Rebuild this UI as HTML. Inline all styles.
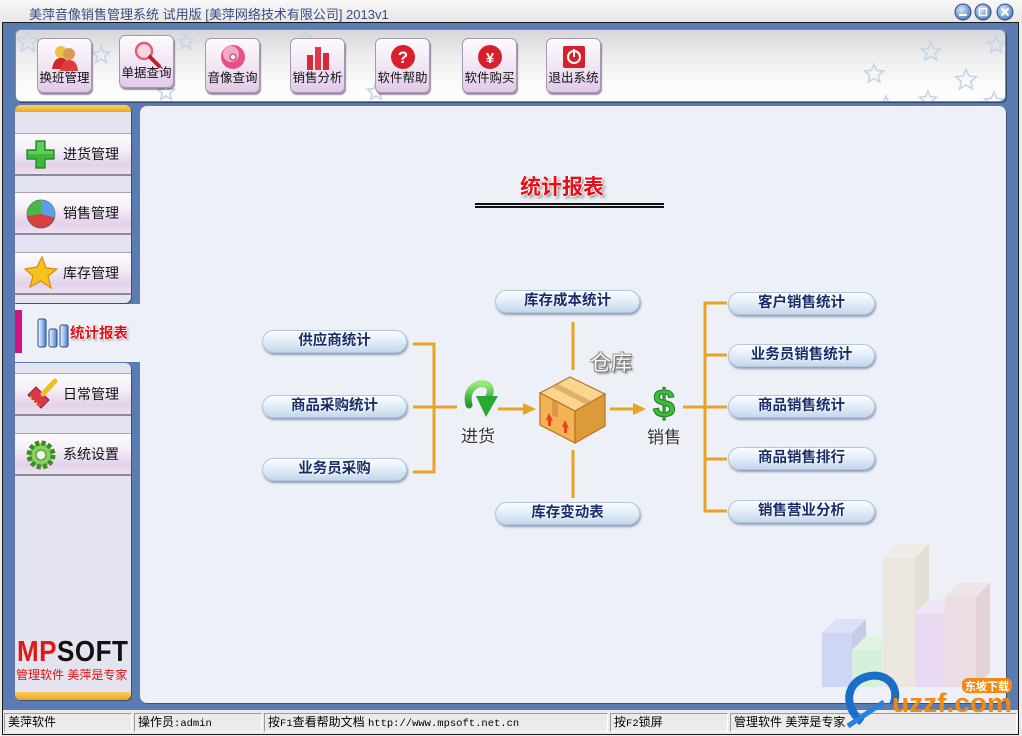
<!DOCTYPE html>
<html><head><meta charset="utf-8">
<style>
*{box-sizing:border-box;margin:0;padding:0}
body{width:1022px;height:736px;position:relative;overflow:hidden;background:#ececec;font-family:"Liberation Sans","Noto Sans CJK SC","WenQuanYi Zen Hei",sans-serif;}
.abs{position:absolute}
.tb{position:absolute;width:55px;height:55px;border-radius:6px;border:1px solid #a796b2;background:linear-gradient(#fdfafd,#f3e9f5 45%,#e1c9e8);box-shadow:1px 2px 1px rgba(70,55,90,.55)}
.tb span{position:absolute;left:0;right:0;bottom:6px;text-align:center;font-size:12.5px;color:#111;white-space:nowrap}
.tb svg{position:absolute;left:12px;top:4px}
.si{position:absolute;left:15px;width:116px;height:43px;background:linear-gradient(180deg,#fcfafd 0%,#f6f0f8 35%,#e3d1eb 78%,#ece1f1 100%);border-top:1px solid #aaa3b4;border-bottom:2px solid #8d8999}
.si span{position:absolute;left:48px;top:0;line-height:41px;font-size:14px;color:#111}
.si svg{position:absolute;left:10px;top:5px}
.pill{position:absolute;height:23px;border-radius:12px;border:1px solid #b3c6dc;background:linear-gradient(#fbfdff,#e4eef8 45%,#c4d8ec);box-shadow:1px 2px 2px rgba(60,90,140,.55);text-align:center;font-weight:bold;font-size:14.5px;line-height:21px;color:#1a2c6a;text-shadow:0 0 2px #fff,0 0 2px #fff}
.seg{position:absolute;top:713px;height:19px;border-top:1px solid #9c9c9c;border-left:1px solid #9c9c9c;border-bottom:1px solid #fff;border-right:1px solid #fff;font-size:12px;line-height:17px;padding-left:3px;color:#000;white-space:nowrap;overflow:hidden}
.mono{font-family:"Liberation Mono",monospace;font-size:10.5px}
</style></head><body>

<!-- title bar -->
<div class="abs" style="left:0;top:0;width:1022px;height:23px;background:linear-gradient(#f8f8f8,#e6e6e6)"></div>
<div class="abs" style="left:29px;top:4px;font-size:13px;color:#3a4a80;white-space:nowrap">美萍音像销售管理系统 试用版 [美萍网络技术有限公司] 2013v1</div>
<svg class="abs" style="left:950px;top:2px" width="70" height="20">
<defs><radialGradient id="wb" cx="40%" cy="35%" r="70%"><stop offset="0" stop-color="#d6e4f8"/><stop offset="1" stop-color="#4c78bc"/></radialGradient></defs>
<circle cx="13" cy="10" r="8" fill="url(#wb)" stroke="#2d4e8e"/>
<circle cx="33" cy="10" r="8" fill="url(#wb)" stroke="#2d4e8e"/>
<circle cx="55" cy="10" r="8" fill="url(#wb)" stroke="#2d4e8e"/>
<rect x="9" y="12" width="8" height="2" fill="#fff"/>
<rect x="29.5" y="6.5" width="7" height="7" fill="none" stroke="#fff" stroke-width="1.5"/>
<path d="M51.5 6.5 L58.5 13.5 M58.5 6.5 L51.5 13.5" stroke="#fff" stroke-width="2"/>
</svg>

<!-- frame -->
<div class="abs" style="left:2px;top:22px;width:1017px;height:713px;border:1px solid #1c1c1c;background:#5a7cb2"></div>

<!-- toolbar panel -->
<div class="abs" style="left:15px;top:29px;width:991px;height:73px;border-radius:6px;border:1px solid #7d8ca6;background:linear-gradient(#d6d6d9,#ececee 35%,#fafafa 75%,#ffffff);box-shadow:1px 1px 0 #34466a;overflow:hidden">
<svg class="abs" style="left:0;top:0" width="991" height="73">
<defs><polygon id="st" points="0,-1 0.265,-0.364 0.951,-0.309 0.428,0.139 0.588,0.809 0,0.45 -0.588,0.809 -0.428,0.139 -0.951,-0.309 -0.265,-0.364" vector-effect="non-scaling-stroke"/></defs>
<g fill="none" stroke="#c3d5e6" stroke-width="1.6">
<use href="#st" transform="translate(12,12) scale(11)"/>
<use href="#st" transform="translate(85,25) scale(9)"/>
<use href="#st" transform="translate(170,12) scale(8)"/>
<use href="#st" transform="translate(150,62) scale(9)"/>
<use href="#st" transform="translate(290,8) scale(7)"/>
<use href="#st" transform="translate(360,62) scale(9)"/>
<use href="#st" transform="translate(858,44) scale(10)"/>
<use href="#st" transform="translate(915,22) scale(10)"/>
<use href="#st" transform="translate(950,50) scale(11)"/>
<use href="#st" transform="translate(980,15) scale(9)"/>
<use href="#st" transform="translate(978,72) scale(10)"/>
<use href="#st" transform="translate(912,70) scale(9)"/>
<use href="#st" transform="translate(870,75) scale(9)"/>
</g>
</svg>
</div>

<!-- toolbar buttons -->
<div class="tb" style="left:37px;top:38px"><svg width="30" height="30"><circle cx="11" cy="9" r="6" fill="#f0c040"/><circle cx="19" cy="11" r="6" fill="#d89a50"/><path d="M2 26 Q4 14 12 15 Q18 15 18 26Z" fill="#d02828"/><path d="M10 28 Q12 17 19 17 Q27 17 28 28Z" fill="#e03c3c"/></svg><span>换班管理</span></div>
<div class="tb" style="left:119px;top:35px;height:53px"><svg width="30" height="30"><circle cx="12" cy="11" r="8" fill="#fbd4dc" stroke="#e0607a" stroke-width="2.5"/><path d="M18 17 L27 26" stroke="#d01828" stroke-width="4" stroke-linecap="round"/></svg><span>单据查询</span></div>
<div class="tb" style="left:205px;top:38px"><svg width="30" height="30"><circle cx="15" cy="14" r="12" fill="#e8508a"/><circle cx="13" cy="11" r="8" fill="#f6a8c8"/><circle cx="15" cy="14" r="3" fill="#fff" stroke="#b02060"/></svg><span>音像查询</span></div>
<div class="tb" style="left:290px;top:38px"><svg width="30" height="30"><rect x="4" y="12" width="6" height="15" fill="#d8283c"/><rect x="12" y="4" width="6" height="23" fill="#e03848"/><rect x="20" y="10" width="6" height="17" fill="#d8283c"/></svg><span>销售分析</span></div>
<div class="tb" style="left:375px;top:38px"><svg width="30" height="30"><circle cx="15" cy="14" r="12" fill="#d8202c"/><text x="15" y="20" text-anchor="middle" font-size="17" font-weight="bold" fill="#fff" font-family="Liberation Sans">?</text></svg><span>软件帮助</span></div>
<div class="tb" style="left:462px;top:38px"><svg width="30" height="30"><circle cx="15" cy="14" r="12" fill="#d8202c"/><text x="15" y="20" text-anchor="middle" font-size="15" font-weight="bold" fill="#fff" font-family="Liberation Sans">¥</text></svg><span>软件购买</span></div>
<div class="tb" style="left:546px;top:38px"><svg width="30" height="30"><rect x="4" y="3" width="22" height="22" rx="2" fill="#d8202c"/><circle cx="15" cy="14" r="6" fill="none" stroke="#fff" stroke-width="2"/><rect x="14" y="6" width="2" height="8" fill="#fff"/></svg><span>退出系统</span></div>

<!-- main panel -->
<div class="abs" style="left:140px;top:106px;width:866px;height:597px;border-radius:7px;background:#edf0f6;box-shadow:1px 1px 0 #3e5078"></div>

<!-- sidebar panel 1 -->
<div class="abs" style="left:15px;top:105px;width:116px;height:198px;border-radius:6px 6px 6px 0;background:#e4e4f0;overflow:hidden;box-shadow:1px 1px 0 #3e5078">
<div style="height:7px;background:linear-gradient(#fbd060,#f0a420)"></div>
</div>
<!-- selected tab -->
<div class="abs" style="left:15px;top:304px;width:130px;height:58px;background:#edf0f6"></div>
<div class="abs" style="left:15px;top:310px;width:7px;height:43px;background:#d0137e"></div>
<svg class="abs" style="left:36px;top:317px" width="34" height="32">
<defs><linearGradient id="bb" x1="0" x2="1"><stop offset="0" stop-color="#f4f8ff"/><stop offset=".5" stop-color="#9cc0ec"/><stop offset="1" stop-color="#4a7cc4"/></linearGradient></defs>
<rect x="2" y="2" width="8" height="28" rx="2" fill="url(#bb)" stroke="#2a4e8c"/>
<rect x="13" y="12" width="8" height="18" rx="2" fill="url(#bb)" stroke="#2a4e8c"/>
<rect x="24" y="8" width="8" height="22" rx="2" fill="url(#bb)" stroke="#2a4e8c"/>
</svg>
<div class="abs" style="left:70px;top:322px;font-size:14.5px;font-weight:bold;color:#e0101a;text-shadow:1px 0 #fff,-1px 0 #fff,0 1px #fff,0 -1px #fff,1px 1px 2px #555;white-space:nowrap">统计报表</div>

<!-- sidebar panel 2 -->
<div class="abs" style="left:15px;top:363px;width:116px;height:337px;border-radius:0 6px 6px 6px;background:#e4e4f0;overflow:hidden;box-shadow:1px 1px 0 #3e5078">
<div style="position:absolute;left:0;right:0;bottom:0;height:8px;background:linear-gradient(#fbd060,#f0a420)"></div>
</div>

<!-- sidebar items -->
<div class="si" style="top:133px"><svg width="32" height="32"><path d="M11 2 H20 V11 H29 V20 H20 V29 H11 V20 H2 V11 H11Z" fill="#3cb83c" stroke="#1f7e1f" stroke-width="1.2"/><path d="M12 3 H19 V12 H28 V15 H3 V12 H12Z" fill="#6ad86a" opacity=".7"/></svg><span>进货管理</span></div>
<div class="si" style="top:192px"><svg width="32" height="32"><circle cx="16" cy="16" r="14" fill="#d84040" stroke="#555" stroke-width=".8"/><path d="M16 16 L16 2 A14 14 0 0 1 29.5 19.5Z" fill="#5aa0e8"/><path d="M16 16 L16 2 A14 14 0 0 0 2.2 18Z" fill="#48b848"/></svg><span>销售管理</span></div>
<div class="si" style="top:252px"><svg width="34" height="34" style="top:3px;left:9px"><polygon points="18,1 22,12 33,13 24,20 27,32 17,25 6,31 9,20 1,13 13,11" fill="#f6c21c" stroke="#d88a10" stroke-width="1.2"/></svg><span>库存管理</span></div>
<div class="si" style="top:373px"><svg width="34" height="34" style="top:3px"><path d="M3 18 L16 31 L24 23 L11 10Z" fill="#d83848" stroke="#902030"/><path d="M5 20 L14 29" stroke="#f0d070" stroke-width="2" stroke-dasharray="2 2"/><path d="M18 17 L30 4" stroke="#f0c020" stroke-width="5" stroke-linecap="round"/></svg><span>日常管理</span></div>
<div class="si" style="top:433px"><svg width="32" height="32"><circle cx="16" cy="16" r="12" fill="#7cc850" stroke="#3e8a2a" stroke-width="5" stroke-dasharray="4 2.3"/><circle cx="16" cy="16" r="9" fill="#8ad060"/><circle cx="16" cy="16" r="5" fill="#f2f4ec" stroke="#3e8a2a"/></svg><span>系统设置</span></div>

<!-- logo -->
<div class="abs" style="left:17px;top:634px;font-size:26px;font-weight:bold;letter-spacing:0.5px;white-space:nowrap;transform:scaleY(1.12);transform-origin:top left"><span style="color:#e01818">MP</span><span style="color:#111">SOFT</span></div>
<div class="abs" style="left:16px;top:666px;font-size:12px;color:#e01010;white-space:nowrap">管理软件 美萍是专家</div>

<!-- diagram title -->
<div class="abs" style="left:520px;top:171px;font-size:21px;font-weight:bold;color:#e2101a;text-shadow:1px 0 #fff,-1px 0 #fff,0 1px #fff,0 -1px #fff,2px 2px 3px #777;white-space:nowrap">统计报表</div>
<div class="abs" style="left:475px;top:203px;width:189px;height:2px;background:#111"></div>
<div class="abs" style="left:475px;top:206px;width:189px;height:2px;background:#111"></div>

<!-- diagram lines & icons -->
<svg class="abs" style="left:0;top:0" width="1022" height="736">
<defs>
<linearGradient id="ga" x1="0" y1="0" x2="0" y2="1"><stop offset="0" stop-color="#9ae87a"/><stop offset="1" stop-color="#1e9a2a"/></linearGradient>
</defs>
<g stroke="#e8a324" stroke-width="3" fill="none">
<path d="M413 344 H434 V472 H413 M413 407 H457"/>
<path d="M498 409 H524"/>
<path d="M573 322 V370 M573 450 V498"/>
<path d="M610 409 H634"/>
<path d="M683 407 H727 M727 303 H705 V511 H727 M705 355 H727 M705 459 H727"/>
</g>
<polygon points="523,403 536,409 523,415" fill="#e8a324"/>
<polygon points="633,403 646,409 633,415" fill="#e8a324"/>
<path d="M469 405 C465 390 476 382 485 384 C492 386 491 393 488 398" stroke="url(#ga)" stroke-width="7" fill="none" stroke-linecap="round"/>
<polygon points="476,396 498,396 486,417" fill="#2aa834"/>
<polygon points="540,393 570,377 605,394 575,411" fill="#f9d690" stroke="#b8721e" stroke-width="1.2"/>
<polygon points="540,393 575,411 575,443 540,425" fill="#f2b450" stroke="#b8721e" stroke-width="1.2"/>
<polygon points="575,411 605,394 605,426 575,443" fill="#dc9a38" stroke="#b8721e" stroke-width="1.2"/>
<polygon points="552,387 558,384 591,401 585,404" fill="#e0b06a"/>
<polygon points="552,400 558,403 558,418 552,415" fill="#d89a48"/>
<polygon points="546,420 549,413 553,421" fill="#e8402a"/><rect x="548" y="420" width="3" height="6" fill="#e8402a"/>
<polygon points="562,427 565,420 569,428" fill="#e8402a"/><rect x="564" y="427" width="3" height="6" fill="#e8402a"/>
<text x="664" y="417" text-anchor="middle" font-size="40" font-weight="bold" font-family="Liberation Sans" fill="#40bc3c" stroke="#1c7a20" stroke-width="1">$</text>
<g opacity=".75">
<polygon points="822,633 836,619 866,619 852,633" fill="#d6dcf6"/><rect x="822" y="633" width="30" height="54" fill="#c6cef2"/><polygon points="852,633 866,619 866,673 852,687" fill="#b8c0e8"/>
<polygon points="852,650 866,636 896,636 882,650" fill="#dcf4dc"/><rect x="852" y="650" width="30" height="37" fill="#cef0d2"/>
<polygon points="883,558 897,544 929,544 915,558" fill="#f0eae2"/><rect x="883" y="558" width="32" height="129" fill="#ece4d6"/><polygon points="915,558 929,544 929,673 915,687" fill="#e0d8cc"/>
<polygon points="915,613 929,599 959,599 945,613" fill="#f0e2f6"/><rect x="915" y="613" width="30" height="74" fill="#e8d2f0"/>
<polygon points="945,597 959,583 990,583 976,597" fill="#f0e0e4"/><rect x="945" y="597" width="31" height="90" fill="#ecd6de"/><polygon points="976,597 990,583 990,673 976,687" fill="#e0c8d0"/>
</g>
</svg>

<div class="abs" style="left:461px;top:422px;font-size:17px;color:#333;text-shadow:0 0 2px #fff,0 0 2px #fff;white-space:nowrap">进货</div>
<div class="abs" style="left:647px;top:423px;font-size:17px;color:#333;text-shadow:0 0 2px #fff,0 0 2px #fff;white-space:nowrap">销售</div>
<div class="abs" style="left:590px;top:347px;font-size:21px;color:#f6f6f6;text-shadow:1px 1px 0 #777,-1px -1px 0 #999,1px -1px 0 #999,-1px 1px 0 #999,2px 2px 2px #666;white-space:nowrap">仓库</div>

<!-- pills -->
<div class="pill" style="left:262px;top:330px;width:145px">供应商统计</div>
<div class="pill" style="left:262px;top:395px;width:145px">商品采购统计</div>
<div class="pill" style="left:262px;top:458px;width:145px">业务员采购</div>
<div class="pill" style="left:495px;top:290px;width:145px">库存成本统计</div>
<div class="pill" style="left:495px;top:502px;width:145px">库存变动表</div>
<div class="pill" style="left:728px;top:292px;width:147px">客户销售统计</div>
<div class="pill" style="left:728px;top:344px;width:147px">业务员销售统计</div>
<div class="pill" style="left:728px;top:395px;width:147px">商品销售统计</div>
<div class="pill" style="left:728px;top:447px;width:147px">商品销售排行</div>
<div class="pill" style="left:728px;top:500px;width:147px">销售营业分析</div>

<!-- status bar -->
<div class="abs" style="left:3px;top:710px;width:1015px;height:24px;background:#ebebeb"></div>
<div class="seg" style="left:4px;width:128px">美萍软件</div>
<div class="seg" style="left:134px;width:128px">操作员<span class="mono">:admin</span></div>
<div class="seg" style="left:264px;width:344px">按<span class="mono">F1</span>查看帮助文档 <span class="mono">http://www.mpsoft.net.cn</span></div>
<div class="seg" style="left:610px;width:118px">按<span class="mono">F2</span>锁屏</div>
<div class="seg" style="left:730px;width:287px">管理软件 美萍是专家</div>

<!-- watermark (on top) -->
<svg class="abs" style="left:0;top:0" width="1022" height="736">
<path d="M862 722 C842 706 846 680 870 676 C890 673 900 690 893 705" stroke="#1a6ec8" stroke-width="8" fill="none"/>
<path d="M848 726 L884 702" stroke="#2a82d8" stroke-width="5"/>
<text x="892" y="712" font-size="27" font-weight="bold" font-family="Liberation Sans" fill="#f08a12" textLength="120" lengthAdjust="spacingAndGlyphs">uzzf.com</text>
<rect x="962" y="678" width="50" height="15" rx="6" fill="#f08a12"/>
<text x="987" y="690" text-anchor="middle" font-size="11" font-weight="bold" fill="#fff" font-family="Liberation Sans,Noto Sans CJK SC,sans-serif">东坡下载</text>
</svg>
</body></html>
